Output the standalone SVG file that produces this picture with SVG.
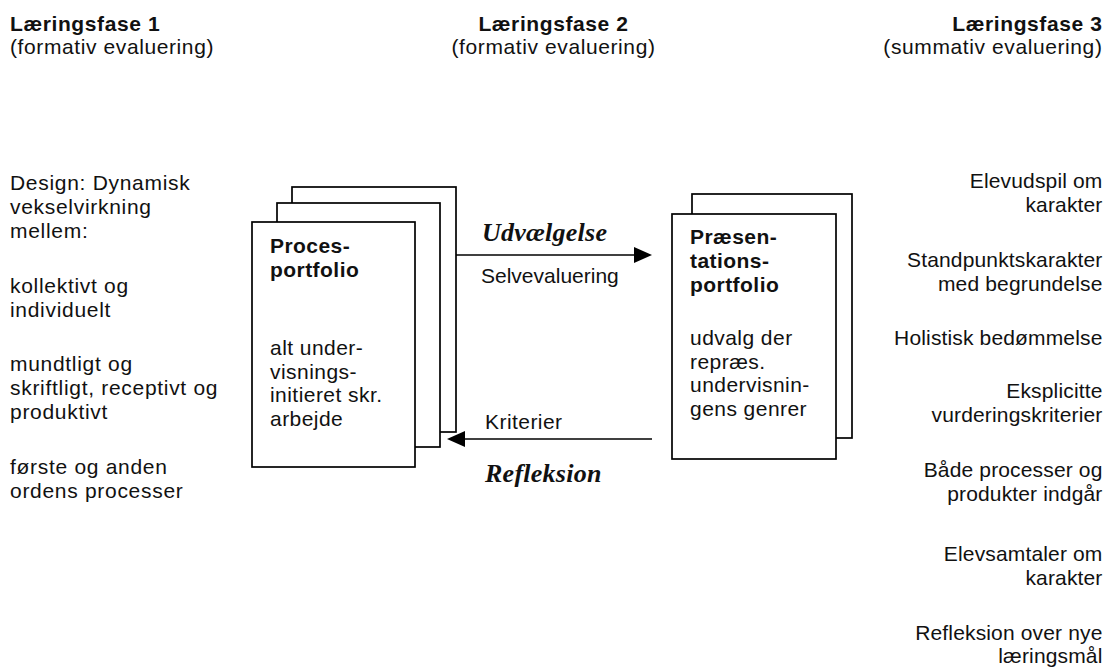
<svg xmlns="http://www.w3.org/2000/svg" width="1105" height="669" viewBox="0 0 1105 669">
  <style>
    text { font-family: "Liberation Sans", Arial, Helvetica, sans-serif; font-size: 21px; fill: #111; }
    .b { font-weight: bold; }
    .mid { text-anchor: middle; }
    .end { text-anchor: end; }
    .head { letter-spacing: 0.6px; }
    .left { letter-spacing: 0.7px; }
    .box { letter-spacing: 0.45px; }
    .right { letter-spacing: 0.15px; }
    .serif { font-family: "Liberation Serif", "Times New Roman", serif; font-weight: bold; font-style: italic; font-size: 26px; letter-spacing: 0.25px; }
    .sheet { fill: #fff; stroke: #000; stroke-width: 1.7; }
    .conn { stroke: #000; stroke-width: 1.7; fill: none; }
  </style>
  <defs>
    <marker id="head" markerUnits="userSpaceOnUse" markerWidth="18" markerHeight="16" refX="6" refY="8" orient="auto">
      <path d="M0,0 L18,8 L0,16 z" fill="#000"/>
    </marker>
  </defs>

  <rect width="1105" height="669" fill="#fff"/>

  <!-- Phase headings -->
  <g id="phase1" class="head">
    <text class="b" x="10" y="31">Læringsfase 1</text>
    <text x="10" y="54">(formativ evaluering)</text>
  </g>
  <g id="phase2" class="head">
    <text class="b mid" x="553.5" y="31">Læringsfase 2</text>
    <text class="mid" x="553.5" y="54">(formativ evaluering)</text>
  </g>
  <g id="phase3" class="head">
    <text class="b end" x="1102.5" y="31">Læringsfase 3</text>
    <text class="end" x="1102.5" y="54">(summativ evaluering)</text>
  </g>

  <!-- Left column: design notes -->
  <g id="design" class="left">
    <text x="10" y="190">Design: Dynamisk</text>
    <text x="10" y="214">vekselvirkning</text>
    <text x="10" y="238">mellem:</text>
    <text x="10" y="293">kollektivt og</text>
    <text x="10" y="317">individuelt</text>
    <text x="10" y="371">mundtligt og</text>
    <text x="10" y="395">skriftligt, receptivt og</text>
    <text x="10" y="419">produktivt</text>
    <text x="10" y="474">første og anden</text>
    <text x="10" y="498">ordens processer</text>
  </g>

  <!-- Process portfolio: stack of three sheets -->
  <g id="procesportfolio" class="box">
    <rect class="sheet" x="292" y="187" width="164" height="245"/>
    <rect class="sheet" x="277" y="203" width="163" height="244"/>
    <rect class="sheet" x="252" y="222" width="163" height="245"/>
    <text class="b" x="270" y="253">Proces-</text>
    <text class="b" x="270" y="277">portfolio</text>
    <text x="270" y="355">alt under-</text>
    <text x="270" y="379">visnings-</text>
    <text x="270" y="402">initieret skr.</text>
    <text x="270" y="426">arbejde</text>
  </g>

  <!-- Presentation portfolio: stack of two sheets -->
  <g id="praesentationsportfolio" class="box">
    <rect class="sheet" x="692" y="194" width="160" height="244"/>
    <rect class="sheet" x="672" y="214" width="164" height="245"/>
    <text class="b" x="690" y="244">Præsen-</text>
    <text class="b" x="690" y="268">tations-</text>
    <text class="b" x="690" y="292">portfolio</text>
    <text x="690" y="345">udvalg der</text>
    <text x="690" y="369">repræs.</text>
    <text x="690" y="392">undervisnin-</text>
    <text x="690" y="416">gens genrer</text>
  </g>

  <!-- Connectors between the portfolios -->
  <g id="connectors">
    <line class="conn" x1="456" y1="255" x2="640" y2="255" marker-end="url(#head)"/>
    <line class="conn" x1="652" y1="439" x2="459" y2="439" marker-end="url(#head)"/>
    <text class="serif" x="482" y="241">Udvælgelse</text>
    <text x="481" y="283">Selvevaluering</text>
    <text class="box" x="485" y="429">Kriterier</text>
    <text class="serif" x="485" y="482">Refleksion</text>
  </g>

  <!-- Right column: summative elements -->
  <g id="summativ" class="right">
    <text class="end" x="1102.5" y="188">Elevudspil om</text>
    <text class="end" x="1102.5" y="212">karakter</text>
    <text class="end" x="1102.5" y="267">Standpunktskarakter</text>
    <text class="end" x="1102.5" y="291">med begrundelse</text>
    <text class="end" x="1102.5" y="345">Holistisk bedømmelse</text>
    <text class="end" x="1102.5" y="398">Eksplicitte</text>
    <text class="end" x="1102.5" y="422">vurderingskriterier</text>
    <text class="end" x="1102.5" y="477">Både processer og</text>
    <text class="end" x="1102.5" y="501">produkter indgår</text>
    <text class="end" x="1102.5" y="561">Elevsamtaler om</text>
    <text class="end" x="1102.5" y="585">karakter</text>
    <text class="end" x="1102.5" y="640">Refleksion over nye</text>
    <text class="end" x="1102.5" y="663">læringsmål</text>
  </g>
</svg>
